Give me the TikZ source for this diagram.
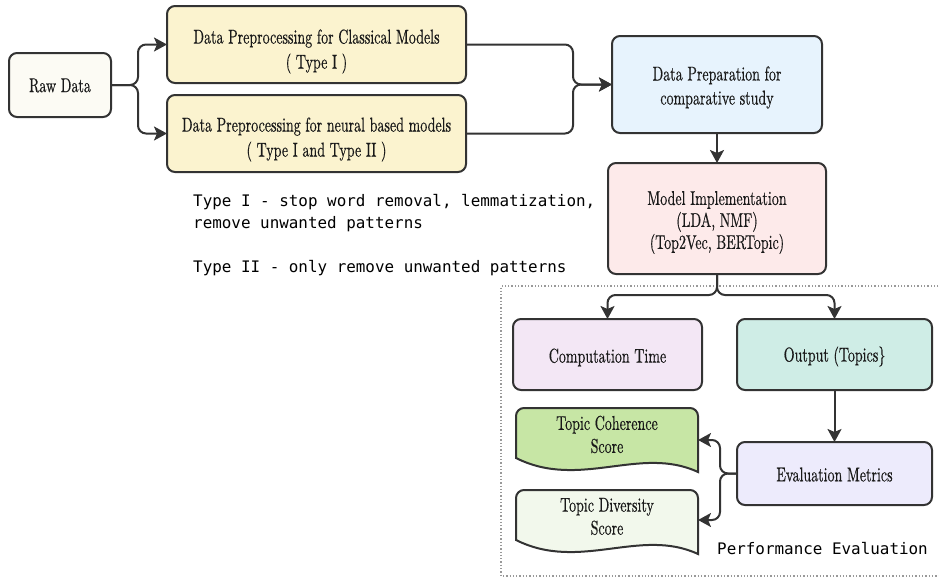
\documentclass[tikz,border=0pt]{standalone}
\usepackage{fontspec}
\setmonofont{DejaVu Sans Mono}
\newfontfamily\condfont{lmroman10-regular}[Extension=.otf,FakeStretch=0.7,FakeBold=0.4]
\usetikzlibrary{arrows.meta,calc}
\definecolor{edge}{HTML}{333333}
\definecolor{rawc}{HTML}{FCFBF4}
\definecolor{prec}{HTML}{FBF3CF}
\definecolor{prepc}{HTML}{E7F3FD}
\definecolor{modc}{HTML}{FDEAEA}
\definecolor{compc}{HTML}{F3E7F5}
\definecolor{outc}{HTML}{CFEDE6}
\definecolor{evalc}{HTML}{EDEBFC}
\definecolor{cohc}{HTML}{C7E6A5}
\definecolor{divc}{HTML}{F2F8EC}
\begin{document}
\begin{tikzpicture}[x=1pt,y=-1pt,
  box/.style={draw=edge,line width=2pt,rounded corners=8pt,inner sep=0pt,outer sep=0pt},
  lbl/.style={inner sep=0pt,outer sep=0pt,align=center,text=black!90,font=\condfont\fontsize{20}{24}\selectfont},
  docshape/.style={draw=edge,line width=2pt},
  conn/.style={draw=edge,line width=2pt,rounded corners=8pt,-{Stealth[length=13pt,width=14pt,inset=3pt]}},
  mono/.style={font=\ttfamily\fontsize{15.9}{22}\selectfont,inner sep=0pt,align=left}
]
\useasboundingbox (0,0) rectangle (939,579);

% dotted frame
\draw[dotted,line width=1.3pt,color=gray!80] (945,286) -- (501,286) -- (501,576) -- (945,576);

% boxes
\node[box,fill=rawc,minimum width=102pt,minimum height=64pt] (raw) at (60,85) {};
\node[box,fill=prec,minimum width=299pt,minimum height=77pt] (cls) at (316.5,44.5) {};
\node[box,fill=prec,minimum width=299pt,minimum height=77pt] (neu) at (316.5,133.5) {};
\node[box,fill=prepc,minimum width=210pt,minimum height=97pt] (prep) at (717,84.5) {};
\node[box,fill=modc,minimum width=218pt,minimum height=111pt] (model) at (717,218.5) {};
\node[box,fill=compc,minimum width=189pt,minimum height=71pt] (comp) at (607.5,354.5) {};
\node[box,fill=outc,minimum width=195pt,minimum height=71pt] (out) at (834.5,354.5) {};
\node[box,fill=evalc,minimum width=195pt,minimum height=63pt] (eval) at (834.5,473.5) {};

% box texts
\node[lbl] (rawT) at ([yshift=-0.5]raw.center) {Raw Data};
\node[lbl,font=\condfont\fontsize{20}{25}\selectfont] (clsT) at ([yshift=-7]cls.center)
  {Data Preprocessing for Classical Models\\( Type I )};
\node[lbl,font=\condfont\fontsize{20}{25}\selectfont] (neuT) at ([yshift=-6]neu.center)
  {Data Preprocessing for neural based models\\( Type I and Type II )};
\node[lbl] (prepT) at ([yshift=-3]prep.center) {Data Preparation for\\comparative study};
\node[lbl,font=\condfont\fontsize{20}{22}\selectfont] (modelT) at ([yshift=-4]model.center)
  {Model Implementation\\(LDA, NMF)\\(Top2Vec, BERTopic)};
\node[lbl] (compT) at ([yshift=-3]comp.center) {Computation Time};
\node[lbl] (outT) at ([yshift=-2]out.center) {Output (Topics\}};
\node[lbl] (evalT) at ([yshift=-1]eval.center) {Evaluation Metrics};

% document shapes
\draw[docshape,fill=cohc] (516,458) [rounded corners=8pt] -- (516,408) -- (698,408) -- (698,440)
  [sharp corners] -- (698,472) .. controls (640,445) and (580,490) .. (516,458) -- cycle;
\node[inner sep=0pt,outer sep=0pt,minimum width=182pt,minimum height=64pt] (coh) at (607,440) {};
\node[lbl,font=\condfont\fontsize{20}{23}\selectfont] (cohT) at (607,434.5) {Topic Coherence\\Score};

\draw[docshape,fill=divc] (516,540) [rounded corners=8pt] -- (516,490) -- (698,490) -- (698,520)
  [sharp corners] -- (698,554) .. controls (640,527) and (580,572) .. (516,540) -- cycle;
\node[inner sep=0pt,outer sep=0pt,minimum width=182pt,minimum height=64pt] (div) at (607,520) {};
\node[lbl,font=\condfont\fontsize{20}{23}\selectfont] (divT) at (607,516.5) {Topic Diversity\\Score};

% texts
\node[mono,anchor=west] (notes) at (193,235)
  {Type I - stop word removal, lemmatization,\\remove unwanted patterns\\[22pt]Type II - only remove unwanted patterns};
\node[mono,anchor=west] (perf) at (717,549) {Performance Evaluation};

% connectors
\draw[conn] (raw.east) -- ($(raw.east)+(27,0)$) |- (cls.west);
\draw[conn] (raw.east) -- ($(raw.east)+(27,0)$) |- (neu.west);
\draw[conn] (cls.east) -- ($(cls.east)+(107,0)$) |- (prep.west);
\draw[conn] (neu.east) -- ($(neu.east)+(107,0)$) |- (prep.west);
\draw[conn] (prep.south) -- (model.north);
\draw[conn] (model.south) -- ($(model.south)+(0,21)$) -| (comp.north);
\draw[conn] (model.south) -- ($(model.south)+(0,21)$) -| (out.north);
\draw[conn] (out.south) -- (eval.north);
\draw[conn] (eval.west) -- ($(eval.west)+(-17,0)$) |- (coh.east);
\draw[conn] (eval.west) -- ($(eval.west)+(-17,0)$) |- (div.east);
\end{tikzpicture}
\end{document}
